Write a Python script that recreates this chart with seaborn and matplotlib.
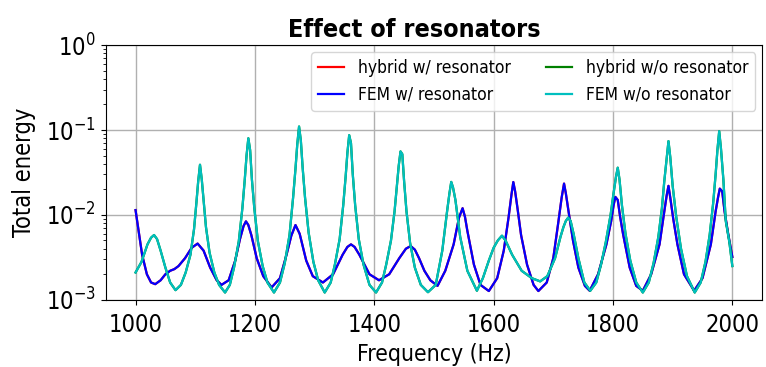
import pandas as pd
import seaborn as sns
import matplotlib.pyplot as plt

# Total energy (FEM and hybrid curves coincide)
freq_w = [1000, 1006, 1011, 1019, 1026, 1033, 1042, 1050, 1058, 1065, 1072, 1083, 1094,
          1104, 1114, 1125, 1136, 1144, 1156, 1167, 1175, 1181, 1185, 1189, 1194, 1203,
          1214, 1228, 1242, 1253, 1261, 1268, 1275, 1286, 1297, 1314, 1331, 1347, 1355,
          1361, 1367, 1375, 1392, 1408, 1425, 1442, 1453, 1461, 1468, 1475, 1484, 1494,
          1506, 1519, 1533, 1542, 1548, 1552, 1556, 1567, 1578, 1592, 1606, 1617, 1625,
          1630, 1633, 1636, 1640, 1646, 1656, 1667, 1675, 1689, 1700, 1708, 1714, 1718,
          1721, 1726, 1733, 1742, 1753, 1761, 1775, 1789, 1797, 1801, 1804, 1808, 1812,
          1817, 1828, 1839, 1850, 1864, 1878, 1886, 1890, 1893, 1896, 1901, 1908, 1919,
          1936, 1950, 1964, 1972, 1976, 1979, 1983, 1987, 1993, 2000]
fem_w = [0.0114, 0.0059, 0.0034, 0.0020, 0.0016, 0.00153, 0.0017, 0.0020, 0.0022, 0.0023,
         0.0025, 0.0031, 0.0041, 0.0046, 0.0038, 0.0024, 0.0017, 0.0015, 0.0017, 0.0029,
         0.0052, 0.0074, 0.0084, 0.0076, 0.0058, 0.0031, 0.0019, 0.0014, 0.0018, 0.0034,
         0.0057, 0.0076, 0.0060, 0.0029, 0.0019, 0.0016, 0.0020, 0.0034, 0.0042, 0.0045,
         0.0042, 0.0034, 0.0020, 0.0017, 0.0020, 0.0031, 0.0040, 0.0043, 0.0039, 0.0031,
         0.0022, 0.0017, 0.00146, 0.0022, 0.0045, 0.0093, 0.012, 0.0095, 0.0065, 0.0026,
         0.0015, 0.00127, 0.0018, 0.0038, 0.0093, 0.0175, 0.0244, 0.019, 0.012, 0.0058,
         0.0026, 0.0015, 0.00127, 0.0016, 0.0031, 0.0078, 0.016, 0.0234, 0.018, 0.0105,
         0.0050, 0.0024, 0.00146, 0.00128, 0.0020, 0.0045, 0.0085, 0.013, 0.0163, 0.015,
         0.0095, 0.0059, 0.0024, 0.00146, 0.00128, 0.0020, 0.0045, 0.011, 0.017, 0.022,
         0.016, 0.0090, 0.0045, 0.0020, 0.00128, 0.0018, 0.0045, 0.011, 0.016, 0.0204,
         0.019, 0.011, 0.0060, 0.0032]
hybrid_w = fem_w

freq_wo = [1000, 1010, 1020, 1026, 1031, 1036, 1042, 1050, 1058, 1067, 1076, 1084, 1092,
           1098, 1102, 1105, 1108, 1111, 1114, 1118, 1124, 1132, 1140, 1150, 1158, 1165,
           1173, 1179, 1183, 1186, 1189, 1192, 1195, 1199, 1205, 1213, 1221, 1232, 1242,
           1250, 1258, 1264, 1268, 1271, 1274, 1277, 1280, 1284, 1290, 1298, 1306, 1317,
           1327, 1334, 1342, 1348, 1352, 1355, 1358, 1361, 1364, 1368, 1374, 1382, 1392,
           1403, 1413, 1420, 1428, 1434, 1438, 1441, 1444, 1447, 1450, 1454, 1460, 1468,
           1478, 1490, 1503, 1514, 1522, 1526, 1529, 1532, 1536, 1544, 1556, 1572, 1582,
           1592, 1600, 1607, 1614, 1620, 1631, 1647, 1664, 1678, 1690, 1703, 1712, 1717,
           1721, 1725, 1729, 1734, 1742, 1752, 1762, 1772, 1780, 1788, 1796, 1801, 1805,
           1808, 1811, 1815, 1821, 1829, 1839, 1850, 1860, 1868, 1876, 1882, 1886, 1890,
           1893, 1896, 1900, 1906, 1914, 1924, 1937, 1947, 1955, 1962, 1968, 1972, 1975,
           1978, 1981, 1985, 1989, 1995, 2000]
fem_wo = [0.0021, 0.0028, 0.0045, 0.0054, 0.0058, 0.0052, 0.0038, 0.0024, 0.0016, 0.0013,
          0.0015, 0.0021, 0.0034, 0.0068, 0.014, 0.025, 0.039, 0.026, 0.015, 0.0072, 0.0036,
          0.0021, 0.0015, 0.00122, 0.0015, 0.0024, 0.0049, 0.012, 0.026, 0.050, 0.080, 0.058,
          0.026, 0.012, 0.0049, 0.0025, 0.0016, 0.00122, 0.0016, 0.0027, 0.0058, 0.016,
          0.035, 0.068, 0.11, 0.075, 0.036, 0.016, 0.0062, 0.0028, 0.0017, 0.00122, 0.0016,
          0.0026, 0.0052, 0.013, 0.028, 0.054, 0.087, 0.070, 0.030, 0.013, 0.0052, 0.0026,
          0.0015, 0.00122, 0.0016, 0.0026, 0.0050, 0.011, 0.022, 0.038, 0.056, 0.052, 0.025,
          0.011, 0.0047, 0.0024, 0.0015, 0.00123, 0.0015, 0.0038, 0.011, 0.018, 0.0245, 0.021,
          0.015, 0.0055, 0.0022, 0.00128, 0.0018, 0.0029, 0.0041, 0.0050, 0.0057, 0.0050,
          0.0034, 0.0022, 0.0018, 0.00165, 0.0019, 0.0031, 0.0055, 0.0072, 0.0085, 0.0093,
          0.0085, 0.0060, 0.0031, 0.0016, 0.00128, 0.0016, 0.0026, 0.0048, 0.010, 0.018,
          0.028, 0.036, 0.026, 0.013, 0.0060, 0.0029, 0.0016, 0.00122, 0.0016, 0.0027,
          0.0055, 0.012, 0.025, 0.046, 0.074, 0.048, 0.022, 0.0095, 0.0040, 0.0019, 0.00122,
          0.0016, 0.0028, 0.0058, 0.014, 0.030, 0.058, 0.097, 0.060, 0.026, 0.0085, 0.0048,
          0.0025]
hybrid_wo = fem_wo

series = [
    ("hybrid w/ resonator", freq_w, hybrid_w, "r"),
    ("FEM w/ resonator", freq_w, fem_w, "b"),
    ("hybrid w/o resonator", freq_wo, hybrid_wo, "g"),
    ("FEM w/o resonator", freq_wo, fem_wo, "c"),
]

# reference text looks horizontally squeezed -> condensed face
plt.rcParams["font.family"] = ["DejaVu Sans"]
plt.rcParams["font.stretch"] = "condensed"

fig, ax = plt.subplots(figsize=(7.66, 3.67), dpi=100)
for label, f, e, color in series:
    df = pd.DataFrame({"Frequency": f, "Energy": e})
    sns.lineplot(data=df, x="Frequency", y="Energy", color=color, label=label,
                 linewidth=1.6, estimator=None, sort=False, ax=ax)

ax.set_yscale("log")
ax.set_ylim(1e-3, 1e0)
ax.set_xlim(950, 2050)
ax.set_xticks([1000, 1200, 1400, 1600, 1800, 2000])
ax.grid(True, which="major", color="#b0b0b0", linewidth=1.0)
ax.tick_params(axis="both", which="major", labelsize=17)
ax.tick_params(axis="x", which="major", pad=6)
ax.set_xlabel("Frequency (Hz)", fontsize=16.5, labelpad=4)
ax.set_ylabel("Total energy", fontsize=17, labelpad=7.5)
ax.set_title("Effect of resonators", fontsize=18, fontweight="bold", x=0.47)

# legend order: column 1 = w/ resonator, column 2 = w/o resonator
ax.legend(loc="upper right", ncol=2, fontsize=12.5, handlelength=1.5,
          borderaxespad=0.4, columnspacing=2.0)

fig.subplots_adjust(left=0.138, right=0.995, top=0.877, bottom=0.183)
plt.savefig("out.png", dpi=100)
